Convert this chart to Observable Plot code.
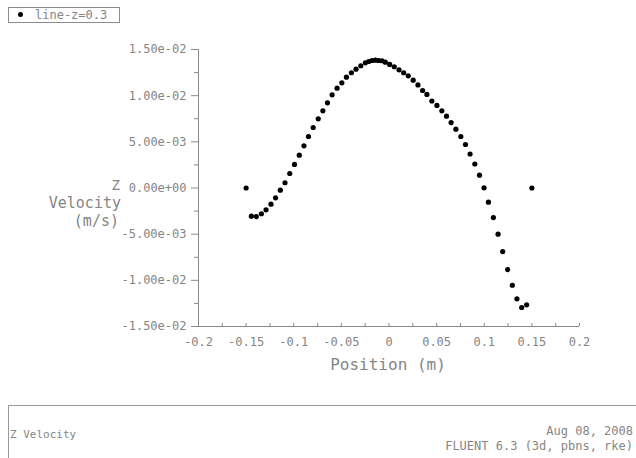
<!DOCTYPE html>
<html>
<head>
<meta charset="utf-8">
<script src="https://cdn.jsdelivr.net/npm/d3@7"></script>
<script src="https://cdn.jsdelivr.net/npm/@observablehq/plot@0.6"></script>
<style>
  html, body { margin: 0; padding: 0; background: #fff; }
  #wrap { position: relative; width: 636px; height: 458px; overflow: hidden; font-family: "DejaVu Sans Mono", monospace; color: #858585; }
  .abs { position: absolute; white-space: pre; line-height: 1; }
</style>
</head>
<body>
<div id="wrap">
  <div id="chart" class="abs" style="left:0;top:0;"></div>
  <div class="abs" style="left:8px;top:7px;width:110px;height:14px;border:1px solid #8c8c8c;background:#fff;"></div>
  <div class="abs" style="left:18px;top:12px;width:5px;height:5px;border-radius:50%;background:#000;"></div>
  <div id="legendText" class="abs" style="left:35px;top:9px;font-size:12px;"></div>
  <div class="abs" style="left:104px;top:178px;font-size:14px;height:14px;width:16px;text-align:right;">Z</div>
  <div class="abs" style="left:0px;top:196px;font-size:15px;height:15px;width:121px;text-align:right;">Velocity</div>
  <div class="abs" style="left:0px;top:214px;font-size:15px;height:15px;width:119px;text-align:right;">(m/s)</div>
  <div class="abs" style="left:388px;top:357px;font-size:16px;width:0;"><span id="xlab" style="position:absolute;transform:translateX(-50%);"></span></div>
  <div class="abs" style="left:8px;top:405px;width:700px;height:80px;border-top:1px solid #9a9a9a;border-left:1px solid #9a9a9a;"></div>
  <div class="abs" style="left:10px;top:429px;font-size:11px;">Z Velocity</div>
  <div class="abs" style="right:3px;top:425px;font-size:12px;text-align:right;">Aug 08, 2008</div>
  <div class="abs" style="right:3px;top:440px;font-size:12px;text-align:right;">FLUENT 6.3 (3d, pbns, rke)</div>
</div>
<script>
// Series: line-z=0.3  (Position in m, Z Velocity in m/s)
const position = [
  -0.1500, -0.1445, -0.1393, -0.1340, -0.1291, -0.1239, -0.1191, -0.1141, -0.1092, -0.1042,
  -0.0992, -0.0942, -0.0893, -0.0845, -0.0796, -0.0743, -0.0694, -0.0646, -0.0597, -0.0545,
  -0.0495, -0.0447, -0.0395, -0.0346, -0.0296, -0.0248, -0.0213, -0.0178, -0.0143, -0.0108,
  -0.0073, -0.0039, 0.0007, 0.0055, 0.0105, 0.0154, 0.0202, 0.0254, 0.0304, 0.0353,
  0.0398, 0.0450, 0.0503, 0.0555, 0.0604, 0.0652, 0.0702, 0.0754, 0.0803, 0.0851,
  0.0901, 0.0950, 0.0998, 0.1044, 0.1096, 0.1145, 0.1194, 0.1246, 0.1295, 0.1343,
  0.1393, 0.1445, 0.1500
];
const zVelocity = [
  0.00000, -0.00305, -0.00309, -0.00279, -0.00236, -0.00175, -0.00106, -0.00024, 0.00057, 0.00157,
  0.00255, 0.00355, 0.00457, 0.00558, 0.00655, 0.00749, 0.00836, 0.00923, 0.01009, 0.01081,
  0.01139, 0.01200, 0.01248, 0.01287, 0.01324, 0.01356, 0.01370, 0.01381, 0.01384, 0.01381,
  0.01378, 0.01363, 0.01338, 0.01313, 0.01280, 0.01248, 0.01215, 0.01168, 0.01116, 0.01056,
  0.01013, 0.00942, 0.00894, 0.00836, 0.00778, 0.00709, 0.00637, 0.00558, 0.00471, 0.00368,
  0.00260, 0.00139, 0.00002, -0.00154, -0.00320, -0.00500, -0.00688, -0.00883, -0.01053, -0.01200,
  -0.01294, -0.01265, 0.00000
];
const seriesName = "line-z=0.3";
const xLabel = "Position (m)";

const xTicks = [-0.2, -0.15, -0.1, -0.05, 0, 0.05, 0.1, 0.15, 0.2];
const xTickLabels = ["-0.2", "-0.15", "-0.1", "-0.05", "0", "0.05", "0.1", "0.15", "0.2"];
const xMinorTicks = [-0.2, -0.175, -0.15, -0.125, -0.1, -0.075, -0.05, -0.025, 0, 0.025, 0.05, 0.075, 0.1, 0.125, 0.15, 0.175, 0.2];
const yTicks = [-0.015, -0.01, -0.005, 0, 0.005, 0.01, 0.015];
const yTickLabels = ["-1.50e-02", "-1.00e-02", "-5.00e-03", "0.00e+00", "5.00e-03", "1.00e-02", "1.50e-02"];
const yMinorTicks = [-0.0125, -0.0075, -0.0025, 0.0025, 0.0075, 0.0125];

document.getElementById("legendText").textContent = seriesName;
document.getElementById("xlab").textContent = xLabel;

const data = position.map((x, i) => ({x, y: zVelocity[i]}));
const axisColor = "#8a8a8a";
const textColor = "#858585";

const chart = Plot.plot({
  width: 636,
  height: 400,
  marginLeft: 198,
  marginRight: 57,
  marginTop: 49,
  marginBottom: 74,
  x: {domain: [-0.2, 0.2]},
  y: {domain: [-0.015, 0.015]},
  style: {fontFamily: "DejaVu Sans Mono", fontSize: "12px", color: textColor, background: "transparent", overflow: "visible"},
  marks: [
    Plot.axisY(yTicks, {tickSize: 7, tickPadding: 5, stroke: axisColor, fill: textColor, tickFormat: d => yTickLabels[yTicks.indexOf(d)], label: null}),
    Plot.axisY(yMinorTicks, {tickSize: 4, stroke: axisColor, tickFormat: () => "", label: null}),
    Plot.axisX(xTicks, {tickSize: 0, tickPadding: 11, fill: textColor, tickFormat: d => xTickLabels[xTicks.indexOf(d)], label: null}),
    Plot.tickX(xMinorTicks, {x: d => d, insetTop: 274, stroke: axisColor}),
    Plot.ruleX([-0.2], {stroke: axisColor}),
    Plot.ruleY([-0.015], {stroke: axisColor}),
    Plot.dot(data, {x: "x", y: "y", r: 2.6, fill: "#000", stroke: null})
  ]
});
document.getElementById("chart").appendChild(chart);
</script>
</body>
</html>
